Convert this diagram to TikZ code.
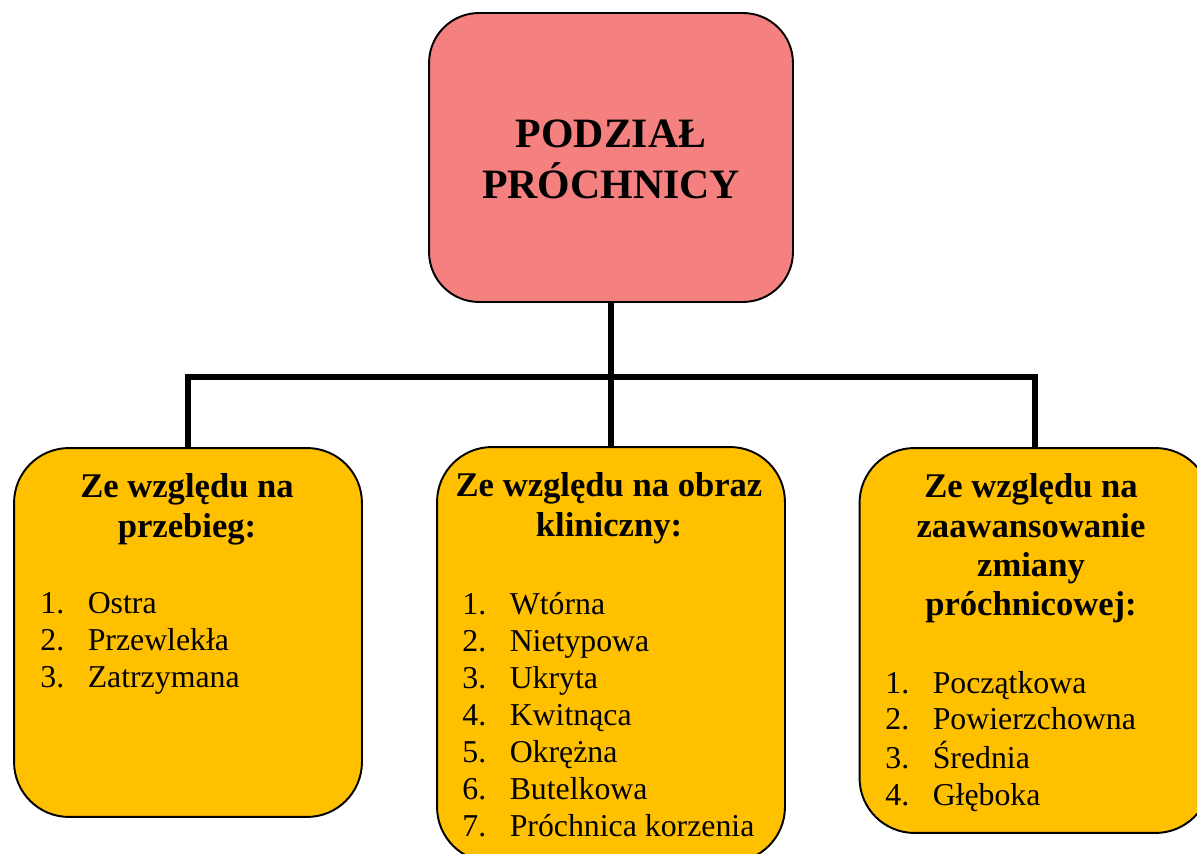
\documentclass[tikz,border=0pt]{standalone}
\usepackage{fontspec}
\setmainfont{Liberation Serif}
\definecolor{salmon}{HTML}{F48080}
\definecolor{gold}{HTML}{FFC000}
\newcommand{\pos}[2]{\makebox[27pt][l]{#1}#2}

\begin{document}
\begin{tikzpicture}[%
    x=0.02cm, y=-0.02cm,
    box/.style={rectangle,draw,line width=1.1pt,rounded corners=1.1cm,inner sep=0pt},
    head/.style={anchor=base,inner sep=0pt,font=\fontsize{19.7}{22.2}\selectfont\bfseries},
    list/.style={anchor=base west,inner sep=0pt,font=\fontsize{18.1}{21}\selectfont},
    conn/.style={line width=3.4pt,line join=miter}
  ]
		\clip (0,0) rectangle (1197,854);

		% top
		\node at (611,157.5) [box,fill=salmon,rounded corners=1cm,minimum width=7.28cm,minimum height=5.78cm] (top) {};
		\node at (611,148) [head,font=\fontsize{23.8}{27.9}\selectfont\bfseries] (title)
			{\begin{tabular}[t]{@{}c@{}}PODZIAŁ\\PRÓCHNICY\end{tabular}};

		% three groups
		\node at (188,632.5) [box,fill=gold,minimum width=6.96cm,minimum height=7.38cm] (b1) {};
		\node at (611,654.5) [box,fill=gold,minimum width=6.96cm,minimum height=8.3cm] (b2) {};
		\node at (1035,640.5) [box,fill=gold,minimum width=7.02cm,minimum height=7.7cm] (b3) {};

		\coordinate (bus) at (611,377);
		\draw[conn] (top.south) -- (bus);
		\draw[conn] (b1.north) |- (bus) -| (b3.north);
		\draw[conn] (bus) -- (b2.north);

		\node at (187,498) [head] (h1)
			{\begin{tabular}[t]{@{}c@{}}Ze względu na\\przebieg:\end{tabular}};
		\node at (40,614) [list] (l1)
			{\begin{tabular}[t]{@{}l@{}}\pos{1.}{Ostra}\\\pos{2.}{Przewlekła}\\\pos{3.}{Zatrzymana}\end{tabular}};

		\node at (609,497) [head] (h2)
			{\begin{tabular}[t]{@{}c@{}}Ze względu na obraz\\kliniczny:\end{tabular}};
		\node at (462,615) [list] (l2)
			{\begin{tabular}[t]{@{}l@{}}\pos{1.}{Wtórna}\\\pos{2.}{Nietypowa}\\\pos{3.}{Ukryta}\\\pos{4.}{Kwitnąca}\\
			\pos{5.}{Okrężna}\\\pos{6.}{Butelkowa}\\\pos{7.}{Próchnica korzenia}\end{tabular}};

		\node at (1031,498) [head] (h3)
			{\begin{tabular}[t]{@{}c@{}}Ze względu na\\zaawansowanie\\zmiany\\próchnicowej:\end{tabular}};
		\node at (885,693) [list] (l3)
			{\begin{tabular}[t]{@{}l@{}}\pos{1.}{Początkowa}\\\pos{2.}{Powierzchowna}\\\pos{3.}{Średnia}\\\pos{4.}{Głęboka}\end{tabular}};
	\end{tikzpicture}
\end{document}
